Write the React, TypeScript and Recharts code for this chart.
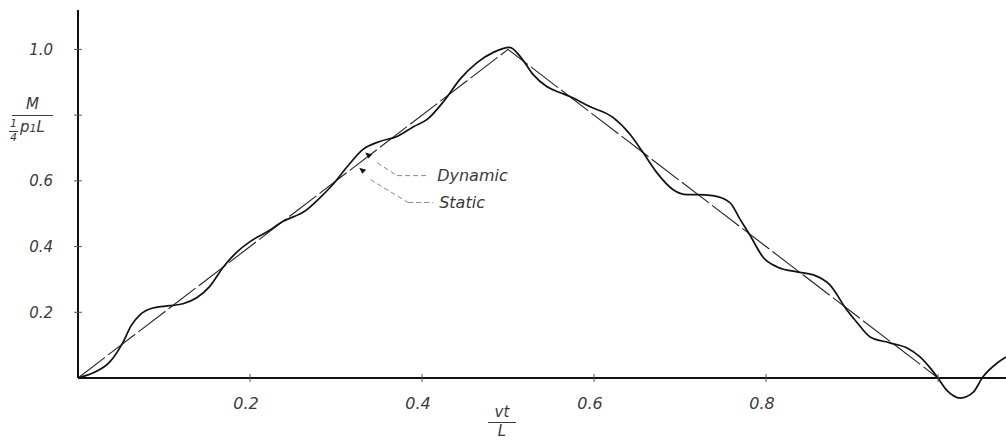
import React from "react";
import { LineChart, Line, XAxis, YAxis, ReferenceLine, ReferenceDot } from "recharts";

// vt/L positions and dynamic moment M / (1/4 p1 L)
const vtL = [
  0, 0.017, 0.037, 0.052, 0.062, 0.072, 0.087, 0.107, 0.122, 0.138, 0.153, 0.169,
  0.185, 0.2, 0.22, 0.238, 0.265, 0.28, 0.295, 0.313, 0.331, 0.351, 0.371, 0.39,
  0.406, 0.427, 0.444, 0.464, 0.483, 0.502, 0.514, 0.529, 0.545, 0.56, 0.572, 0.595,
  0.622, 0.642, 0.657, 0.673, 0.692, 0.708, 0.72, 0.738, 0.758, 0.77, 0.781, 0.797,
  0.813, 0.836, 0.855, 0.874, 0.894, 0.906, 0.921, 0.944, 0.964, 0.979, 0.991, 0.999,
  1.01, 1.026, 1.041, 1.052, 1.069, 1.079,
];
const dynamicM = [
  0, 0.015, 0.049, 0.107, 0.16, 0.192, 0.213, 0.22, 0.226, 0.244, 0.278, 0.338,
  0.384, 0.415, 0.445, 0.476, 0.51, 0.545, 0.585, 0.643, 0.695, 0.72, 0.735, 0.765,
  0.787, 0.848, 0.909, 0.96, 0.991, 1.006, 0.979, 0.924, 0.887, 0.869, 0.857, 0.826,
  0.793, 0.741, 0.686, 0.625, 0.573, 0.558, 0.558, 0.555, 0.534, 0.482, 0.436, 0.366,
  0.338, 0.323, 0.314, 0.284, 0.207, 0.168, 0.125, 0.107, 0.091, 0.064, 0.03, 0.003,
  -0.037, -0.061, -0.043, 0.003, 0.046, 0.064,
];

const staticVt = [0, 0.5, 1.0];
const staticM = [0, 1, 0];

const xTicks = [0.2, 0.4, 0.6, 0.8, 1.0];
const xTickLabels = ["0.2", "0.4", "0.6", "0.8", ""];
const yTicks = [0.2, 0.4, 0.6, 0.8, 1.0];
const yTickLabels = ["0.2", "0.4", "0.6", "", "1.0"];

const FONT = "'DejaVu Sans', 'Liberation Sans', sans-serif";
const INK = "#111";
const TEXT = "#3a3a3a";

const dynamicData = vtL.map((x, i) => ({ x, m: dynamicM[i] }));
const staticData = staticVt.map((x, i) => ({ x, m: staticM[i] }));

function Arrow(props: { cx?: number; cy?: number }) {
  const { cx = 0, cy = 0 } = props;
  return <polygon points={`${cx},${cy} ${cx + 7},${cy + 2} ${cx + 3},${cy + 6}`} fill={INK} />;
}

const labelStyle = { fill: TEXT, fontSize: 16, fontStyle: "oblique", fontFamily: FONT };

export default function App() {
  return (
    <div style={{ position: "absolute", left: 0, top: 0, width: 1006, height: 443, fontFamily: FONT, background: "#fff" }}>
      <style>{`.recharts-wrapper [clip-path]{clip-path:none !important}`}</style>
      <LineChart width={1006} height={443} margin={{ top: 10, right: 0, bottom: 0, left: 0 }}>
        <XAxis
          type="number"
          dataKey="x"
          domain={[0, 1.079]}
          allowDataOverflow
          ticks={xTicks}
          tickFormatter={(v: number) => xTickLabels[xTicks.indexOf(v)] ?? ""}
          height={65}
          tickSize={8}
          tickMargin={12}
          axisLine={{ stroke: INK, strokeWidth: 2 }}
          tickLine={{ stroke: "#555", strokeWidth: 1, transform: "translate(0,-4)" }}
          tick={{ ...labelStyle, dx: -4 }}
        />
        <YAxis
          type="number"
          domain={[0, 1.12]}
          allowDataOverflow
          ticks={yTicks}
          tickFormatter={(v: number) => yTickLabels[yTicks.indexOf(v)] ?? ""}
          width={78}
          tickSize={8}
          tickMargin={17}
          axisLine={{ stroke: INK, strokeWidth: 2 }}
          tickLine={{ stroke: "#555", strokeWidth: 1, transform: "translate(4,0)" }}
          tick={{ ...labelStyle, fontSize: 15 }}
        />
        <Line
          data={staticData}
          dataKey="m"
          type="linear"
          stroke="#222"
          strokeWidth={1.1}
          strokeDasharray="34 4"
          dot={false}
          isAnimationActive={false}
        />
        <Line
          data={dynamicData}
          dataKey="m"
          type="monotone"
          stroke={INK}
          strokeWidth={1.7}
          dot={false}
          isAnimationActive={false}
        />
        {/* annotation leaders */}
        <ReferenceLine
          segment={[{ x: 0.348, y: 0.655 }, { x: 0.371, y: 0.616 }]}
          stroke="#888"
          strokeDasharray="5 3"
        />
        <ReferenceLine
          segment={[{ x: 0.371, y: 0.616 }, { x: 0.406, y: 0.616 }]}
          stroke="#888"
          strokeDasharray="5 3"
          label={{ value: "Dynamic", position: "right", offset: 10, ...labelStyle }}
        />
        <ReferenceLine
          segment={[{ x: 0.34, y: 0.604 }, { x: 0.384, y: 0.534 }]}
          stroke="#888"
          strokeDasharray="5 3"
        />
        <ReferenceLine
          segment={[{ x: 0.384, y: 0.534 }, { x: 0.413, y: 0.534 }]}
          stroke="#888"
          strokeDasharray="5 3"
          label={{ value: "Static", position: "right", offset: 6, ...labelStyle }}
        />
        <ReferenceDot x={0.334} y={0.686} r={3} shape={<Arrow />} />
        <ReferenceDot x={0.327} y={0.64} r={3} shape={<Arrow />} />
      </LineChart>

      {/* y axis title: M over (1/4) p1 L */}
      <div style={{ position: "absolute", left: 12, top: 96, width: 41, textAlign: "center", fontStyle: "oblique", fontSize: 15, color: TEXT, lineHeight: "16px" }}>
        M
      </div>
      <div style={{ position: "absolute", left: 12, top: 115, width: 41, height: 0, borderTop: `1px solid ${TEXT}` }} />
      <div style={{ position: "absolute", left: 9, top: 118, width: 9, textAlign: "center", fontStyle: "oblique", fontSize: 11, color: TEXT, lineHeight: "12px" }}>
        <div>1</div>
        <div style={{ borderTop: `1px solid ${TEXT}`, marginTop: 1 }}>4</div>
      </div>
      <div style={{ position: "absolute", left: 20, top: 119, fontStyle: "oblique", fontSize: 15, color: TEXT, lineHeight: "16px", whiteSpace: "nowrap" }}>
        p<span style={{ fontSize: 11 }}>1</span>L
      </div>

      {/* x axis title: vt over L */}
      <div style={{ position: "absolute", left: 488, top: 404, width: 28, textAlign: "center", fontStyle: "oblique", fontSize: 15, color: TEXT, lineHeight: "16px" }}>
        <div>vt</div>
        <div style={{ borderTop: `1px solid ${TEXT}`, marginTop: 2 }}>L</div>
      </div>
    </div>
  );
}
